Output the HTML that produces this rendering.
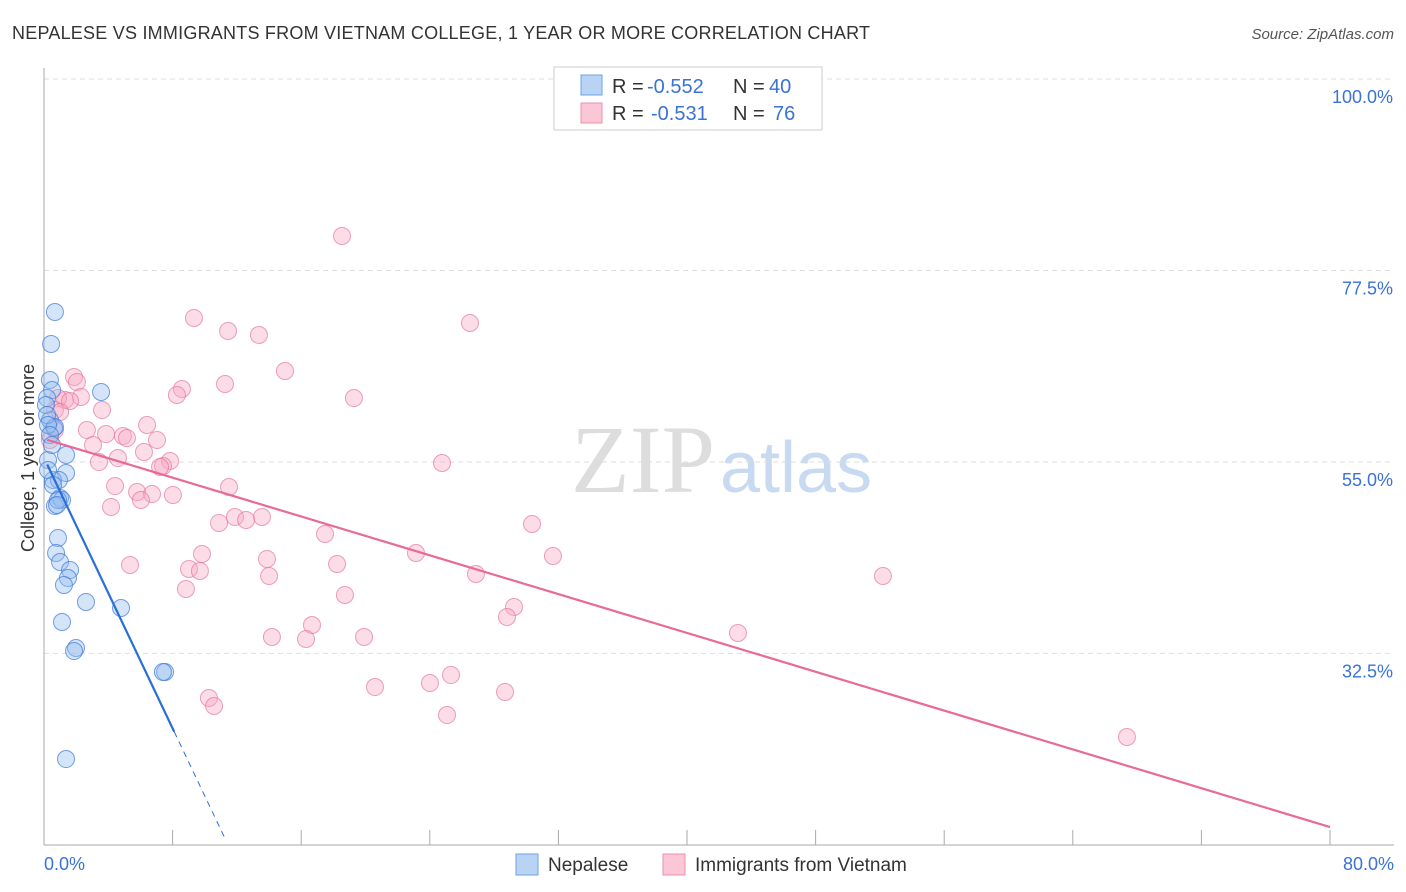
<!DOCTYPE html>
<html><head><meta charset="utf-8"><style>
body{margin:0;background:#fff;font-family:"Liberation Sans",sans-serif}
</style></head><body>
<svg width="1406" height="892" style="display:block">
<text x="12" y="39" font-size="18" fill="#333" textLength="858">NEPALESE VS IMMIGRANTS FROM VIETNAM COLLEGE, 1 YEAR OR MORE CORRELATION CHART</text>
<text x="1394" y="39" font-size="15" fill="#555" font-style="italic" text-anchor="end">Source: ZipAtlas.com</text>
<text x="715" y="492" font-size="96" fill="#ddd" font-family="Liberation Serif,serif" text-anchor="end">ZIP</text>
<text x="720" y="492" font-size="72" fill="#c8daf2">atlas</text>
<g id="grid"></g>
<line x1="44" y1="68" x2="44" y2="845" stroke="#aaa"/>
<line x1="44" y1="845" x2="1394" y2="845" stroke="#aaa"/>
<g id="xticks"></g>
<text x="34" y="458" font-size="18" fill="#333" text-anchor="middle" transform="rotate(-90 34 458)">College, 1 year or more</text>
<text x="44" y="870" font-size="18" fill="#3a72d8">0.0%</text>
<text x="1394" y="870" font-size="18" fill="#3a72d8" text-anchor="end">80.0%</text>
<g id="pts"></g>
<g id="lines"></g>
<g font-size="20">
<rect x="554" y="67" width="268" height="63" fill="#fff" stroke="#ccc"/>
<rect x="581" y="75" width="21" height="20" fill="#b9d3f5" stroke="#6fa0e6"/>
<rect x="581" y="103" width="21" height="20" fill="#fbc6d6" stroke="#ec8fae"/>
<text x="612" y="93" fill="#333">R =</text><text x="647" y="93" fill="#3a72d8">-0.552</text>
<text x="733" y="93" fill="#333">N =</text><text x="769" y="93" fill="#3a72d8">40</text>
<text x="612" y="120" fill="#333">R =</text><text x="651" y="120" fill="#3a72d8">-0.531</text>
<text x="733" y="120" fill="#333">N =</text><text x="773" y="120" fill="#3a72d8">76</text>
</g>
<g>
<rect x="516" y="854" width="22" height="21" fill="#b9d3f5" stroke="#6fa0e6"/>
<text x="548" y="871" font-size="19" fill="#333">Nepalese</text>
<rect x="663" y="854" width="22" height="21" fill="#fbc6d6" stroke="#ec8fae"/>
<text x="695" y="871" font-size="19" fill="#333">Immigrants from Vietnam</text>
</g>
</svg>
<script>
const yTicks=[100,77.5,55,32.5];
const xTickVals=[8,16,24,32,40,48,56,64,72,80];
const bluePx=[[55,312],[51,344],[50,380],[52,390],[101,392],[47,398],[50,420],[54,428],[55,427],[48,460],[66,455],[66,473],[53,480],[59,480],[60,498],[62,500],[55,506],[58,538],[56,553],[60,562],[70,570],[68,578],[64,585],[86,602],[121,608],[62,622],[76,648],[74,651],[165,672],[163,672],[66,759],[46,405],[47,415],[48,425],[50,435],[52,445],[48,470],[53,485],[58,500],[57,505]];
const pinkPx=[[342,236],[194,318],[470,323],[228,331],[259,335],[285,371],[74,377],[77,382],[182,389],[225,384],[177,395],[354,398],[65,400],[58,398],[81,397],[70,401],[55,410],[102,410],[147,425],[87,430],[106,434],[123,436],[127,438],[157,440],[93,445],[144,452],[118,458],[99,462],[170,461],[163,466],[160,467],[442,463],[115,486],[229,487],[137,492],[152,494],[173,495],[141,500],[111,507],[235,517],[262,517],[219,523],[246,520],[532,524],[325,534],[202,554],[416,553],[553,556],[267,559],[130,565],[189,569],[200,571],[337,564],[269,576],[476,574],[883,576],[186,589],[345,595],[514,607],[507,617],[312,625],[272,637],[306,639],[364,637],[738,633],[451,675],[430,683],[375,687],[505,692],[209,698],[214,706],[447,715],[1127,737],[55,430],[50,440],[60,412]];
const blueX=bluePx.map(p=>+((p[0]-44)/16.075).toFixed(2)), blueY=bluePx.map(p=>+(100-(p[1]-79)/8.51).toFixed(2));
const pinkX=pinkPx.map(p=>+((p[0]-44)/16.075).toFixed(2)), pinkY=pinkPx.map(p=>+(100-(p[1]-79)/8.51).toFixed(2));
const blueTrend=[[0.2,54.7],[8.1,23.3],[11.3,10.6]];
const pinkTrend=[[0.2,57.6],[80,12.1]];
const X=v=>44+v*16.075, Y=v=>79+(100-v)*8.51;
const NS='http://www.w3.org/2000/svg';
function mk(t,a,parent){const e=document.createElementNS(NS,t);for(const k in a)e.setAttribute(k,a[k]);document.getElementById(parent).appendChild(e);return e;}
yTicks.forEach(t=>{
 const l=mk('line',{x1:44,x2:1394,y1:Y(t),y2:Y(t),stroke:'#ddd','stroke-dasharray':'5,4'},'grid');
 
 
 const tx=mk('text',{x:1393,y:Y(t)+24,'font-size':18,fill:'#3a72d8','text-anchor':'end'},'grid');
 tx.textContent=t.toFixed(1)+'%';
 
 
});
xTickVals.forEach(t=>{
 const l=mk('line',{x1:X(t),x2:X(t),y1:830,y2:845,stroke:'#aaa'},'xticks');
 
 
});
pinkX.forEach((x,i)=>{
 const c=mk('circle',{cx:X(x),cy:Y(pinkY[i]),r:8.5,fill:'rgba(248,170,195,0.4)',stroke:'rgba(230,120,155,0.7)','stroke-width':1},'pts');
 
 
});
blueX.forEach((x,i)=>{
 const c=mk('circle',{cx:X(x),cy:Y(blueY[i]),r:8.5,fill:'rgba(150,190,240,0.4)',stroke:'rgba(60,120,215,0.7)','stroke-width':1},'pts');
 
 
});
let l=mk('line',{x1:X(blueTrend[0][0]),y1:Y(blueTrend[0][1]),x2:X(blueTrend[1][0]),y2:Y(blueTrend[1][1]),stroke:'#2a6fd6','stroke-width':2.2},'lines');


l=mk('line',{x1:X(blueTrend[1][0]),y1:Y(blueTrend[1][1]),x2:X(blueTrend[2][0]),y2:Y(blueTrend[2][1]),stroke:'#2a6fd6','stroke-width':1,'stroke-dasharray':'6,5'},'lines');


l=mk('line',{x1:X(pinkTrend[0][0]),y1:Y(pinkTrend[0][1]),x2:X(pinkTrend[1][0]),y2:Y(pinkTrend[1][1]),stroke:'#e86a96','stroke-width':2.2},'lines');


</script>
</body></html>
